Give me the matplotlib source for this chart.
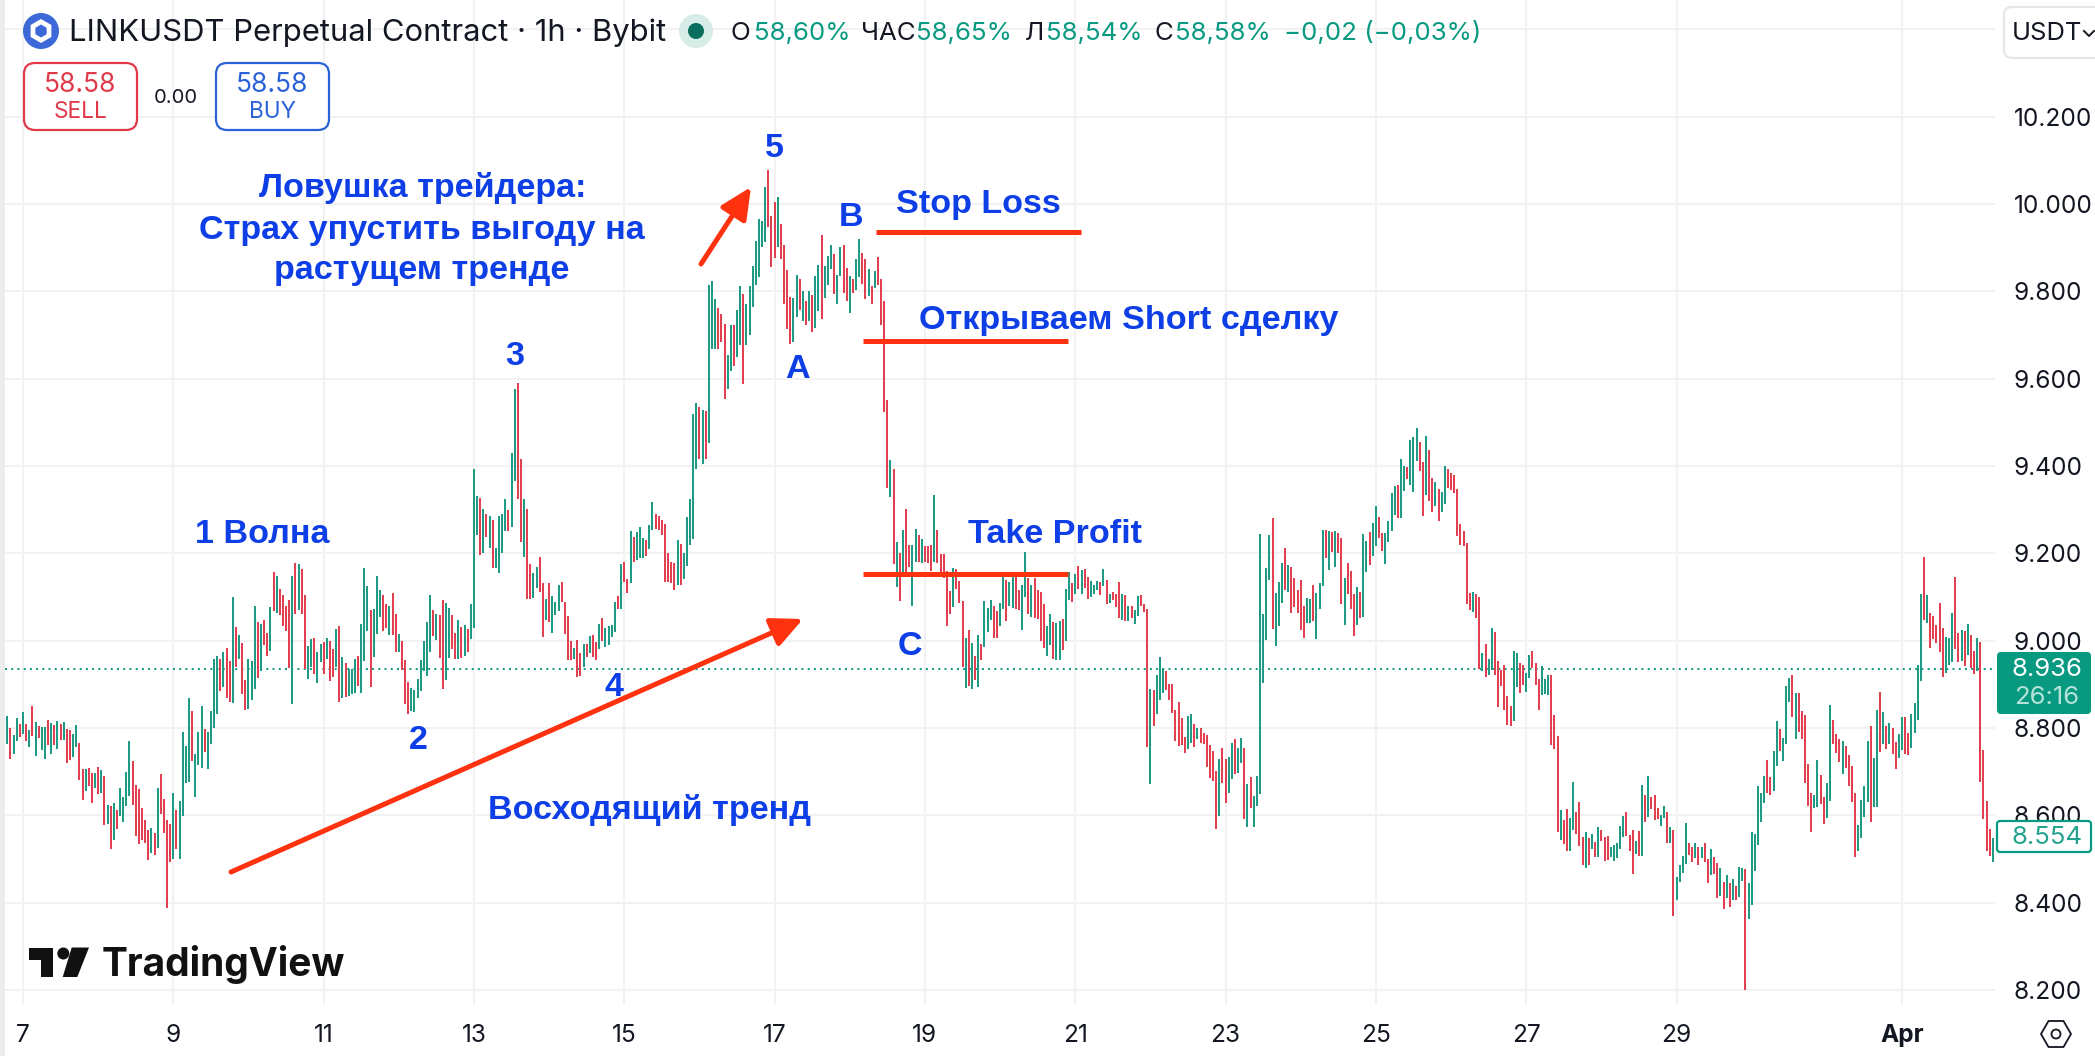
import math
import matplotlib
matplotlib.use("Agg")
import matplotlib.pyplot as plt
from matplotlib.patches import FancyBboxPatch, Polygon, Circle, Rectangle, RegularPolygon

# ---------------- hourly bars (high, low, direction) ----------------
high_a = [8.827,8.800,8.784,8.823,8.809,8.837,8.809,8.795,8.851,8.813,8.805,8.803,8.803,8.819,8.811,8.806,8.816,8.808,8.813,8.797,
8.795,8.786,8.807,8.765,8.707,8.705,8.708,8.697,8.697,8.711,8.703,8.690,8.624,8.622,8.628,8.613,8.663,8.642,8.699,8.770,
8.724,8.670,8.660,8.616,8.589,8.567,8.571,8.559,8.663,8.694,8.638,8.589,8.581,8.651,8.612,8.632,8.790,8.758,8.869,8.839,
8.741,8.790,8.851,8.798,8.790,8.839,8.958,8.965,8.958,8.973,8.984,8.953,9.100,9.031,9.014,8.995,8.910,8.959,8.953,9.080,
9.042,9.038,9.048,9.017,9.077,9.157,9.148,9.118,9.105,9.079,9.092,9.148,9.178,9.176,9.164,9.105,8.988,9.004,9.005,8.975,
8.993,8.997,9.005,8.999,8.981,9.026,9.034,8.962,8.949,8.934,8.934,8.959,8.965,9.038,9.166,9.125,9.069,9.073,9.148,9.115,
9.105,9.084,9.079,9.110,9.062,9.015,8.999,8.955,8.906,8.892,8.886,8.912,8.955,8.999,9.042,9.105,9.070,9.062,9.058,9.092,
9.087,9.075,9.058,9.018,9.048,9.032,9.036,9.026,9.084]
low_a = [8.764,8.730,8.741,8.770,8.780,8.785,8.770,8.756,8.782,8.736,8.777,8.750,8.728,8.762,8.741,8.760,8.752,8.772,8.773,8.720,
8.726,8.733,8.756,8.681,8.635,8.655,8.668,8.629,8.663,8.648,8.650,8.577,8.579,8.523,8.544,8.569,8.598,8.585,8.622,8.644,
8.624,8.552,8.534,8.544,8.536,8.498,8.514,8.510,8.524,8.603,8.559,8.388,8.494,8.499,8.522,8.500,8.598,8.674,8.677,8.725,
8.642,8.715,8.709,8.744,8.706,8.764,8.801,8.833,8.884,8.893,8.869,8.859,8.858,8.940,8.958,8.877,8.841,8.843,8.865,8.889,
8.914,8.931,8.991,8.965,8.977,9.068,9.064,9.058,9.034,9.022,8.937,8.854,9.060,9.070,9.061,8.936,8.912,8.940,8.923,8.903,
8.950,8.924,8.958,8.908,8.916,8.940,8.859,8.869,8.870,8.874,8.877,8.879,8.896,8.881,8.953,9.022,8.894,8.963,9.015,9.053,
9.023,9.030,9.014,9.012,8.975,8.973,8.932,8.854,8.831,8.839,8.837,8.869,8.884,8.930,8.920,8.973,9.010,9.001,8.961,8.890,
8.910,8.961,8.980,8.957,8.957,8.961,8.965,8.975,9.003]
dir_a = "GRGGRGRGRG" "RGGRGRGRGR" "RGGRRGRRGR" "GRGRGRGGGG" "RRRRRRGRGR" "RRRGRGGGGR" "GGGRGGGGRG" "RRGRGRRGGG" \
        "RGRRGRGRRR" "RGRGRRGGRG" "GRGRRGRGRG" "GGRGGGRGGG" "RRGRRGRRRG" "GGGGGGRGRR" "GGRRGRGRG"

high_b = [9.393,9.332,9.327,9.302,9.290,9.286,9.276,9.212,9.286,9.290,9.324,9.299,9.429,9.576,9.590,9.415,9.324,9.301,9.175,9.155,
9.168,9.192,9.133,9.096,9.131,9.102,9.089,9.127,9.135,9.089,9.056,8.999,8.984,9.001,8.971,8.993,8.993,9.010,9.012,8.997,
9.039,9.051,9.028,9.034,9.036,9.089,9.102,9.175,9.181,9.140,9.251,9.238,9.249,9.260,9.236,9.231,9.264,9.317,9.290,9.286,
9.277,9.266,9.200,9.181,9.178,9.231,9.222,9.200,9.284,9.325,9.520,9.545,9.534,9.529,9.527,9.814,9.823,9.783,9.761,9.749,
9.726,9.654,9.724,9.724,9.757,9.812,9.794,9.772,9.813,9.858,9.915,9.965,9.962,10.039,10.079,9.972,10.004,10.015,9.954,9.906,
9.849,9.787,9.784,9.838,9.829,9.800,9.779,9.800,9.792,9.834,9.860,9.930,9.857,9.882,9.906,9.886,9.838,9.902,9.905,9.854,
9.834,9.829,9.873,9.919,9.888,9.873,9.851,9.812,9.847,9.879,9.829,9.778,9.551,9.413,9.394,9.227,9.201,9.253,9.302,9.220,
9.220,9.255,9.242,9.233,9.216,9.216,9.219,9.333,9.253,9.198,9.198]
low_b = [9.028,9.242,9.197,9.201,9.238,9.213,9.166,9.166,9.155,9.201,9.251,9.251,9.260,9.365,9.324,9.227,9.192,9.096,9.096,9.098,
9.120,9.111,9.008,9.047,9.043,9.017,9.058,9.067,9.089,9.015,8.955,8.956,8.959,8.916,8.918,8.940,8.962,8.971,8.962,8.955,
8.980,8.999,8.986,8.991,9.008,9.019,9.072,9.072,9.135,9.108,9.131,9.181,9.184,9.190,9.190,9.194,9.210,9.254,9.255,9.254,
9.242,9.135,9.135,9.133,9.115,9.128,9.128,9.140,9.172,9.220,9.232,9.394,9.415,9.404,9.415,9.453,9.667,9.667,9.667,9.685,
9.553,9.577,9.617,9.630,9.650,9.676,9.588,9.676,9.700,9.765,9.814,9.832,9.902,9.914,9.947,9.855,9.877,9.902,9.873,9.772,
9.714,9.680,9.685,9.742,9.757,9.733,9.724,9.733,9.707,9.715,9.755,9.737,9.784,9.814,9.851,9.794,9.770,9.834,9.797,9.779,
9.750,9.797,9.803,9.832,9.816,9.783,9.790,9.772,9.807,9.814,9.724,9.523,9.350,9.330,9.175,9.122,9.091,9.155,9.150,9.168,
9.080,9.181,9.181,9.178,9.181,9.177,9.159,9.181,9.177,9.152,9.143]
dir_b = "GGRGRGRGGG" "GRGGRRGRRG" "GRRGRGGGRR" "RRGRRGRGRR" "GRGGGGRGRR" "GRGGGRGGRR" "RRRRRGRGGG" "GGRGRGGGRR" \
        "RGGRGGRGGG" "GGGGRRRGRR" "RRGGRGRGRG" "GRGGGRGGRR" "GRGGRRGRGR" "RRRGRGRGRR" "GGRGRRRGRR" "R"

high_c = [9.160,9.113,9.167,9.164,9.136,9.090,9.005,9.025,8.995,8.964,9.014,8.993,9.090,9.075,9.094,9.080,9.067,9.086,9.149,9.138,
9.134,9.147,9.147,9.115,9.128,9.203,9.144,9.128,9.144,9.117,9.111,9.083,9.033,9.062,9.042,9.041,9.046,9.050,9.118,9.157,
9.132,9.153,9.172,9.161,9.163,9.146,9.136,9.128,9.136,9.134,9.163,9.138,9.106,9.112,9.106,9.135,9.106,9.104,9.080,9.080,
9.071,9.102,9.104,9.084,9.073,8.890,8.886,8.922,8.963,8.938,8.930,8.900,8.900,8.842,8.859,8.822,8.780,8.827,8.831,8.808,
8.800,8.800,8.789,8.783,8.762,8.747,8.701,8.729,8.755,8.729,8.734,8.766,8.774,8.753,8.776,8.755,8.671,8.688,8.644,8.691,
9.245,9.060,9.167,9.243,9.281,9.109,9.135,9.177,9.212,9.174,9.169,9.144,9.117,9.138,9.080,9.098,9.096,9.128,9.108,9.132,
9.253,9.253,9.252,9.248,9.252,9.247,9.235,9.144,9.177,9.160,9.107,9.123,9.112,9.244,9.228,9.249,9.270,9.308,9.283,9.247,
9.247,9.275,9.337,9.355,9.357]
low_c = [9.033,9.060,9.077,9.118,9.086,8.940,8.892,8.896,8.890,8.909,8.894,8.955,8.986,9.019,9.048,9.006,9.006,9.033,9.073,9.044,
9.080,9.075,9.073,9.071,9.025,9.100,9.062,9.054,9.052,9.050,8.999,8.983,8.964,8.991,8.958,8.955,8.955,8.978,8.999,9.094,
9.089,9.106,9.119,9.106,9.121,9.096,9.099,9.106,9.117,9.104,9.126,9.085,9.086,9.093,9.077,9.052,9.048,9.044,9.044,9.052,
9.037,9.057,9.079,9.065,8.756,8.671,8.804,8.831,8.864,8.880,8.888,8.865,8.835,8.770,8.758,8.762,8.742,8.752,8.766,8.757,
8.774,8.766,8.764,8.710,8.686,8.678,8.568,8.598,8.674,8.627,8.652,8.682,8.694,8.697,8.719,8.592,8.574,8.617,8.574,8.621,
8.649,8.902,9.002,9.138,9.027,8.987,9.033,9.086,9.115,9.111,9.064,9.077,9.064,9.025,9.005,9.041,9.041,9.044,9.004,9.073,
9.125,9.189,9.161,9.203,9.168,9.201,9.085,9.035,9.106,9.073,9.010,9.035,9.051,9.054,9.157,9.173,9.193,9.216,9.235,9.205,
9.176,9.225,9.250,9.287,9.281]
dir_c = "RRGRRRGRGR" "GRGGGRRGGR" "GGRRGGRGRR" "RRGGRGGRGG" "RGRGRRGGGR" "GRGRRRGRGR" "GGRRRGRGGG" "RRRRRRRGGR" \
        "GRRRRRRGRR" "GGRGGRGRGG" "GGGGRGGGRG" "RRRRRGGRGG" "GRGRGRRGRR" "RGRGGRGGRR" "GGGGR"

high_d = [9.415,9.399,9.397,9.459,9.466,9.488,9.456,9.410,9.468,9.437,9.373,9.364,9.348,9.340,9.401,9.392,9.385,9.380,9.348,9.268,
9.250,9.224,9.108,9.112,9.106,9.099,8.972,8.993,8.957,9.028,9.019,8.954,8.932,8.945,8.874,8.851,8.977,8.972,8.949,8.945,
8.926,8.968,8.977,8.948,8.911,8.943,8.911,8.922,8.922,8.829]
low_d = [9.280,9.342,9.371,9.357,9.340,9.412,9.389,9.286,9.334,9.319,9.294,9.309,9.273,9.294,9.314,9.350,9.346,9.338,9.239,9.218,
9.216,9.085,9.069,9.065,9.051,8.935,8.930,8.916,8.922,8.932,8.922,8.848,8.897,8.842,8.806,8.804,8.816,8.894,8.879,8.899,
8.882,8.914,8.937,8.899,8.840,8.875,8.877,8.875,8.762,8.751]
dir_d = "GGRGGGRRGR" "RGRGGRRRRR" "RRRGRRGRGG" "RRRRRRGGRR" "GGRRRGGGRR"

high_e = [8.782,8.612,8.589,8.615,8.594,8.676,8.608,8.631,8.550,8.562,8.548,8.557,8.539,8.573,8.566,8.550,8.553,8.528,8.532,8.537,
8.576,8.599,8.608,8.555,8.566,8.541,8.564,8.670,8.647,8.690,8.642,8.647,8.617,8.601,8.621,8.608,8.573,8.566,8.459,8.486,
8.507,8.583,8.537,8.528,8.537,8.528,8.528,8.537,8.500,8.523,8.505,8.491,8.480,8.448,8.464,8.445,8.454,8.438,8.482,8.480,
8.477,8.445,8.562,8.557]
low_e = [8.562,8.544,8.534,8.518,8.518,8.566,8.557,8.530,8.486,8.480,8.486,8.523,8.505,8.505,8.541,8.496,8.498,8.505,8.496,8.502,
8.523,8.550,8.553,8.518,8.466,8.512,8.507,8.507,8.585,8.596,8.615,8.589,8.592,8.576,8.594,8.537,8.537,8.370,8.406,8.447,
8.468,8.489,8.509,8.493,8.502,8.486,8.502,8.493,8.445,8.464,8.466,8.411,8.415,8.386,8.411,8.390,8.406,8.406,8.413,8.450,
8.200,8.363,8.395,8.473]
dir_e = "RGRRGGRRRG" "RGRGRRRGGG" "GGRRRGRGRG" "RRRGGRGRGG" "GGRRGRGRRG" "RRGRGRGRGG" "RGGG"

high_f = [8.666,8.650,8.689,8.726,8.687,8.748,8.817,8.797,8.778,8.896,8.914,8.921,8.881,8.881,8.838,8.829,8.717,8.650,8.647,8.726,
8.692,8.641,8.674,8.852,8.818,8.787,8.774,8.770,8.758,8.738,8.712,8.650,8.577,8.635,8.667,8.770,8.804,8.732,8.842,8.883,
8.836,8.804,8.812,8.800,8.767,8.785,8.824,8.824,8.788,8.831,8.858,8.945,9.106,9.191,9.104,9.063,9.057,9.035,9.086,9.028,
9.009,9.005,9.064,9.145,9.017,9.024,9.022,9.037,9.012,8.977,9.005,8.996,8.749,8.632,8.568,8.549]
low_f = [8.532,8.584,8.629,8.652,8.647,8.656,8.713,8.748,8.725,8.763,8.860,8.825,8.774,8.791,8.774,8.675,8.622,8.562,8.616,8.618,
8.625,8.580,8.594,8.633,8.763,8.742,8.721,8.694,8.709,8.667,8.631,8.505,8.519,8.549,8.596,8.631,8.585,8.618,8.618,8.745,
8.763,8.751,8.763,8.740,8.706,8.732,8.750,8.740,8.738,8.755,8.788,8.819,8.908,9.047,9.041,8.983,9.003,8.994,8.974,8.917,
8.925,8.944,8.952,8.980,8.952,8.954,8.942,8.967,8.938,8.923,8.931,8.677,8.591,8.519,8.507,8.494]
dir_f = "GGGRRGGRGG" "GRGRRRRRGG" "RRGGRRRGRR" "RRGGGGRGGR" "GRGRRGGRRG" "GGGRGRRRRR" "GGGRRGRGRR" "GRRRRG"

for h, l, d in [(high_a, low_a, dir_a), (high_b, low_b, dir_b), (high_c, low_c, dir_c),
                (high_d, low_d, dir_d), (high_e, low_e, dir_e), (high_f, low_f, dir_f)]:
    assert len(h) == len(l) == len(d), (len(h), len(l), len(d))

highs = high_a + high_b + high_c + high_d + high_e + high_f
lows = low_a + low_b + low_c + low_d + low_e + low_f
dirs = dir_a + dir_b + dir_c + dir_d + dir_e + dir_f
first_hour = -5                        # first bar, hours after 7 March 00:00
hours = [first_hour + i for i in range(len(highs))]

price_ticks = [8.2, 8.4, 8.6, 8.8, 9.0, 9.2, 9.4, 9.6, 9.8, 10.0, 10.2]
price_labels = ["8.200", "8.400", "8.600", "8.800", "9.000", "9.200", "9.400", "9.600", "9.800", "10.000", "10.200"]
date_days = [0, 2, 4, 6, 8, 10, 12, 14, 16, 18, 20, 22, 25]
date_labels = ["7", "9", "11", "13", "15", "17", "19", "21", "23", "25", "27", "29", "Apr"]
last_price = 8.936

GREEN, RED = "#1f9a85", "#e0404f"
TEAL = "#089981"
BLUE = "#0d3ee6"
ORANGE = "#ff3210"
GRID = "#f2f2f3"
INK = "#131722"
UI_FONT = ["Inter", "DejaVu Sans"]
NOTE_FONT = ["Liberation Sans", "DejaVu Sans"]

W, H = 2095, 1056
fig = plt.figure(figsize=(W / 100, H / 100), dpi=100, facecolor="white")

# price pane: x 5..1995 px, y 0..1005 px
ax = fig.add_axes([5 / W, (H - 1005) / H, (1995 - 5) / W, 1005 / H])
px_per_hour = 3.1317
ax.set_xlim((5 - 23) / px_per_hour, (1995 - 23) / px_per_hour)
ax.set_ylim(10.2 - (1005 - 116.7) / 436.6, 10.2 + 116.7 / 436.6)
for s in ax.spines.values():
    s.set_visible(False)
ax.yaxis.tick_right()
ax.set_yticks(price_ticks + [10.4])
ax.set_yticklabels(price_labels + [""], fontsize=17.6, family=UI_FONT, color=INK)
ax.set_xticks([d * 24 for d in date_days])
ax.set_xticklabels(date_labels, fontsize=17.6, family=UI_FONT, color=INK)
ax.get_xticklabels()[-1].set_fontweight("bold")
ax.tick_params(axis="y", length=0, pad=13.5)
ax.tick_params(axis="x", length=0, pad=14)
ax.grid(True, color=GRID, lw=1.5)
ax.set_axisbelow(True)

ax.axhline(last_price, color=TEAL, lw=1.4, ls=(0, (1, 2.2)), zorder=1.5)
ax.vlines([t for t, d in zip(hours, dirs) if d == "G"],
          [v for v, d in zip(lows, dirs) if d == "G"],
          [v for v, d in zip(highs, dirs) if d == "G"],
          color=GREEN, lw=1.45, capstyle="butt", zorder=2)
ax.vlines([t for t, d in zip(hours, dirs) if d == "R"],
          [v for v, d in zip(lows, dirs) if d == "R"],
          [v for v, d in zip(highs, dirs) if d == "R"],
          color=RED, lw=1.45, capstyle="butt", zorder=2)

# overlay in picture pixels for the drawn annotations and the interface pieces
ov = fig.add_axes([0, 0, 1, 1], facecolor="none")
ov.set_xlim(0, W)
ov.set_ylim(H, 0)
ov.axis("off")

ov.add_patch(Rectangle((0, 0), 5, H, color="#ececec", lw=0))

def note(x, y, s, size=24.6, **kw):
    ov.text(x, y + 2.5, s, color=BLUE, fontsize=size, fontweight="bold", family=NOTE_FONT,
            ha="center", va="center", zorder=6, **kw)

note(423, 186, "Ловушка трейдера:")
note(422, 228, "Страх упустить выгоду на")
note(422, 268, "растущем тренде")
note(262, 532, "1 Волна")
note(418, 738, "2")
note(515, 354, "3")
note(614, 685, "4")
note(774, 146, "5")
note(797, 367, "A")
note(851, 215, "B")
note(910, 644, "C")
note(978, 202, "Stop Loss")
note(1129, 318, "Открываем Short сделку")
note(1055, 532, "Take Profit")
note(649, 807, "Восходящий тренд")

for x0, x1, y in [(876, 1081, 232), (863, 1068, 341), (863, 1068, 574)]:
    ov.plot([x0, x1], [y, y], color=ORANGE, lw=3.6, solid_capstyle="butt", zorder=5)
for start, tip in [((231, 872), (803, 619)), ((701, 264), (751, 187))]:
    ov.annotate("", xy=tip, xytext=start, zorder=5,
                arrowprops=dict(arrowstyle="-|>,head_length=19,head_width=9", mutation_scale=1,
                                color=ORANGE, lw=3.6, shrinkA=0, shrinkB=0))

# header
ov.add_patch(Circle((41, 31), 18, color="#3d68d8", lw=0))
ov.add_patch(RegularPolygon((41, 31), 6, radius=12, color="white", lw=0))
ov.add_patch(RegularPolygon((41, 31), 6, radius=6.5, color="#3d68d8", lw=0))
ov.text(69, 33, "LINKUSDT Perpetual Contract · 1h · Bybit", fontsize=22.3, family=UI_FONT,
        color=INK, va="center", ha="left")
ov.add_patch(Circle((696, 31), 17, color="#d8ede8", lw=0))
ov.add_patch(Circle((696, 31), 8, color="#0a6e5c", lw=0))
for x, s, c in [(731, "О", INK), (754, "58,60%", TEAL), (861, "ЧАС", INK), (916, "58,65%", TEAL),
                (1025, "Л", INK), (1046, "58,54%", TEAL), (1155, "С", INK), (1175, "58,58%", TEAL),
                (1284, "−0,02 (−0,03%)", TEAL)]:
    ov.text(x, 33, s, fontsize=18.6, family=UI_FONT, color=c, va="center", ha="left")

ov.add_patch(FancyBboxPatch((2004, 7), 120, 51, boxstyle="round,pad=0,rounding_size=8",
                            fc="white", ec="#e4e6ea", lw=1.5, zorder=6))
ov.text(2012, 34, "USDT", fontsize=18.4, family=UI_FONT, color=INK, va="center", ha="left", zorder=7)
ov.plot([2084, 2089, 2094], [31, 36, 31], color=INK, lw=1.4, zorder=7)

for x0, w, c, price, side in [(24, 113, "#e0394a", "58.58", "SELL"), (216, 113, "#2b62d8", "58.58", "BUY")]:
    ov.add_patch(FancyBboxPatch((x0, 63), w, 67, boxstyle="round,pad=0,rounding_size=11",
                                fc="white", ec=c, lw=1.6, zorder=4))
    ov.text(x0 + w / 2, 85, price, fontsize=19, family=UI_FONT, color=c, ha="center", va="center", zorder=5)
    ov.text(x0 + w / 2, 112, side, fontsize=16.3, family=UI_FONT, color=c, ha="center", va="center", zorder=5)
ov.text(176, 98, "0.00", fontsize=14.5, family=UI_FONT, color=INK, ha="center", va="center")

# TradingView mark
ov.add_patch(Polygon([(29, 947.5), (53.3, 947.5), (53.3, 977), (40.7, 977), (40.7, 960), (29, 960)],
                     color="#111111", lw=0, zorder=5))
ov.add_patch(Circle((63.3, 953.5), 6, color="#111111", lw=0, zorder=5))
ov.add_patch(Polygon([(71.7, 947.5), (89, 947.5), (77.3, 977), (62.7, 977)], color="#111111", lw=0, zorder=5))
ov.text(102, 964, "TradingView", fontsize=28, fontweight="bold", family=UI_FONT, color="#111111",
        ha="left", va="center", zorder=5)

# last price tags on the scale
ov.add_patch(FancyBboxPatch((1997, 652), 94, 62, boxstyle="round,pad=0,rounding_size=4",
                            fc=TEAL, ec="none", zorder=6))
ov.text(2047, 670, "8.936", fontsize=18.5, family=UI_FONT, color="white", ha="center", va="center", zorder=7)
ov.text(2047, 698, "26:16", fontsize=18.5, family=UI_FONT, color="#b5e3d9", ha="center", va="center", zorder=7)
ov.add_patch(FancyBboxPatch((1997, 821), 94, 31, boxstyle="round,pad=0,rounding_size=3",
                            fc="white", ec=TEAL, lw=1.6, zorder=6))
ov.text(2047, 837, "8.554", fontsize=18.5, family=UI_FONT, color="#23a38d", ha="center", va="center", zorder=7)

# settings icon
ov.add_patch(RegularPolygon((2056, 1034), 6, radius=15, orientation=math.pi / 6, fc="white", ec=INK, lw=1.3))
ov.add_patch(Circle((2056, 1034), 4.5, fc="white", ec=INK, lw=1.3))

fig.savefig("out.png", dpi=100)
